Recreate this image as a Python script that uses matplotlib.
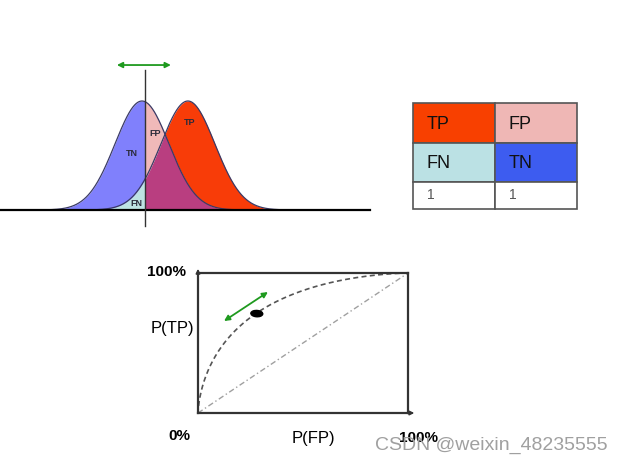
import math
import numpy as np
import matplotlib
matplotlib.use("Agg")
import matplotlib.pyplot as plt
from matplotlib.patches import Rectangle, Ellipse

plt.rcParams['font.family'] = ['Liberation Sans', 'DejaVu Sans']

W, H = 625, 466

# ---- data ----
neg_mean, pos_mean, sigma = 0.0, 1.70, 1.0   # score distributions
threshold = 0.11
region_labels = ["TN", "FP", "TP", "FN"]
region_label_pos = [(-0.38, 0.52), (0.48, 0.70), (1.78, 0.80), (-0.19, 0.06)]

table_cells = [["TP", "FP"], ["FN", "TN"], ["1", "1"]]
table_colors = [["#f84000", "#efb7b5"], ["#bbe1e4", "#3d5cf0"], ["#ffffff", "#ffffff"]]

roc_dprime = 1.15
op_point = (0.28, 0.71)

# ---- colors ----
c_tn, c_fp, c_tp, c_ov, c_fn = "#8080fc", "#f0b9b9", "#f83c08", "#b93e80", "#bde3e3"
green = "#1f9a1f"

fig = plt.figure(figsize=(W / 100, H / 100), dpi=100)


def px_axes(x0, y0, x1, y1):
    return fig.add_axes([x0 / W, 1 - y1 / H, (x1 - x0) / W, (y1 - y0) / H])


# ---- distributions panel ----
ax = px_axes(0, 50, 380, 235)
px_per_unit_x, px_per_unit_y, x_origin, y_base = 27.0, 109.0, 142.0, 210.0
ax.set_xlim((0 - x_origin) / px_per_unit_x, (380 - x_origin) / px_per_unit_x)
ax.set_ylim((y_base - 235) / px_per_unit_y, (y_base - 50) / px_per_unit_y)
ax.axis("off")

x = np.linspace(-4.5, 6.5, 1200)
b = np.exp(-0.5 * ((x - neg_mean) / sigma) ** 2)
r = np.exp(-0.5 * ((x - pos_mean) / sigma) ** 2)
lo = np.minimum(b, r)
left = x <= threshold
right = x >= threshold
ax.fill_between(x, 0, lo, where=left, color=c_fn, lw=0)
ax.fill_between(x, lo, b, where=left, color=c_tn, lw=0)
ax.fill_between(x, 0, lo, where=right, color=c_ov, lw=0)
ax.fill_between(x, lo, b, where=right & (b > r), color=c_fp, lw=0, interpolate=True)
ax.fill_between(x, lo, r, where=right & (r > b), color=c_tp, lw=0, interpolate=True)
ax.plot(x, b, color="#3a3a66", lw=0.9)
ax.plot(x, r, color="#3a3a66", lw=0.9)
ax.axhline(0, xmin=0, xmax=370 / 380, color="black", lw=1.6)
ax.plot([threshold, threshold], [-0.147, 1.28], color="#333333", lw=1.0)
ax.annotate("", xy=(1.07, 1.33), xytext=(-0.93, 1.33),
            arrowprops=dict(arrowstyle="<|-|>", color=green, lw=1.3,
                            mutation_scale=8, shrinkA=0, shrinkB=0))
for lab, (lx, ly) in zip(region_labels, region_label_pos):
    ax.text(lx, ly, lab, fontsize=6.5, ha="center", va="center",
            color="#2a2a3a", fontweight="bold")

# ---- table ----
row_heights = [40, 38, 27]
tax = px_axes(413, 103, 577, 209)
tax.set_xlim(0, 2)
tax.set_ylim(sum(row_heights), 0)
tax.axis("off")
y0 = 0
for i, row in enumerate(table_cells):
    h = row_heights[i]
    for j, txt in enumerate(row):
        tax.add_patch(Rectangle((j, y0), 1, h, facecolor=table_colors[i][j],
                                edgecolor="#555555", lw=1.2, clip_on=False))
        if i < 2:
            tax.text(j + 0.17, y0 + h / 2 + 1, txt, fontsize=13, ha="left",
                     va="center", color="#111111")
        else:
            tax.text(j + 0.17, y0 + h / 2, txt, fontsize=10, ha="left",
                     va="center", color="#555555")
    y0 += h

# ---- ROC panel ----
rax = px_axes(198, 273, 408, 413)
rax.set_xlim(0, 1)
rax.set_ylim(0, 1)
rax.set_xticks([])
rax.set_yticks([])
for s in rax.spines.values():
    s.set_color("#333333")
    s.set_linewidth(1.6)

erf = np.frompyfunc(math.erf, 1, 1)
t = np.linspace(-4.5, 4.5, 400)
Phi = lambda z: 0.5 * (1 + erf(z / math.sqrt(2)).astype(float))
fpr = 1 - Phi(t)
tpr = 1 - Phi(t - roc_dprime)
rax.plot(fpr, tpr, color="#555555", lw=1.2, ls=(0, (3, 2)))
rax.plot([0, 1], [0, 1], color="#a0a0a0", lw=1.0, ls=(0, (4, 2, 1, 2)))
rax.add_patch(Ellipse(op_point, 0.057, 0.045, angle=-10, color="black", zorder=5))
rax.annotate("", xy=(0.333, 0.864), xytext=(0.124, 0.657),
             arrowprops=dict(arrowstyle="<|-|>", color=green, lw=1.3,
                             mutation_scale=8, shrinkA=0, shrinkB=0))
rax.annotate("", xy=(0, 1.03), xytext=(0, 0.99), xycoords="axes fraction",
             arrowprops=dict(arrowstyle="-|>", color="#333333", lw=1.2,
                             mutation_scale=6, shrinkA=0, shrinkB=0), annotation_clip=False)
rax.annotate("", xy=(1.03, 0), xytext=(0.99, 0), xycoords="axes fraction",
             arrowprops=dict(arrowstyle="-|>", color="#333333", lw=1.2,
                             mutation_scale=6, shrinkA=0, shrinkB=0), annotation_clip=False)

rax.text(-0.057, 1.007, "100%", transform=rax.transAxes, ha="right", va="center",
         fontsize=11, fontweight="bold")
rax.text(-0.019, 0.6, "P(TP)", transform=rax.transAxes, ha="right", va="center",
         fontsize=12)
rax.text(-0.038, -0.164, "0%", transform=rax.transAxes, ha="right", va="center",
         fontsize=11, fontweight="bold")
rax.text(0.548, -0.18, "P(FP)", transform=rax.transAxes, ha="center", va="center",
         fontsize=12)
rax.text(1.052, -0.18, "100%", transform=rax.transAxes, ha="center", va="center",
         fontsize=11, fontweight="bold")

fig.text(375 / W, 1 - 445 / H, "CSDN @weixin_48235555", ha="left", va="center",
         fontsize=14, color="#a0a0a0")

fig.savefig("out.png", dpi=100)
